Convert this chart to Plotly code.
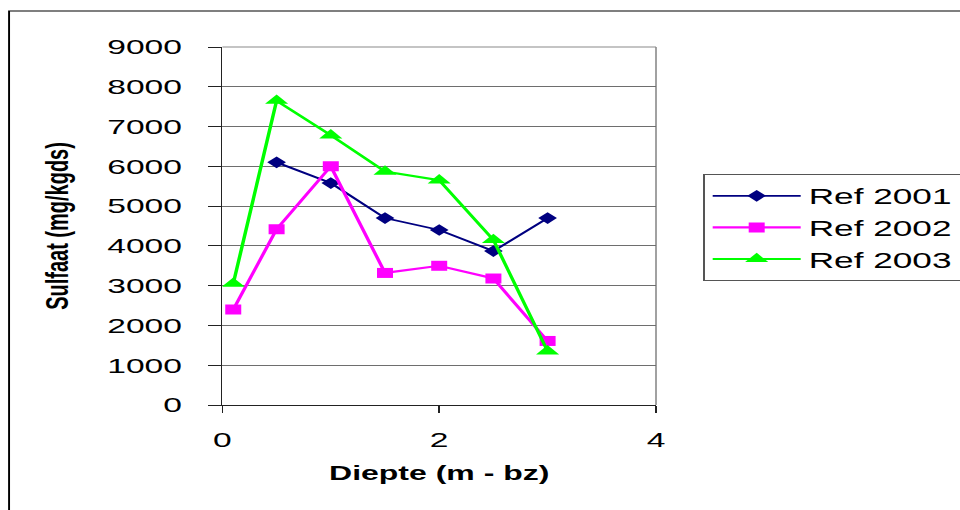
import plotly.graph_objects as go

# Sulfate content per depth for the three reference years
depth_2001 = [0.5, 1.0, 1.5, 2.0, 2.5, 3.0]
ref_2001 = [6100, 5580, 4700, 4400, 3870, 4700]

depth_2002 = [0.1, 0.5, 1.0, 1.5, 2.0, 2.5, 3.0]
ref_2002 = [2400, 4420, 6000, 3320, 3500, 3180, 1610]

depth_2003 = [0.1, 0.5, 1.0, 1.5, 2.0, 2.5, 3.0]
ref_2003 = [3050, 7650, 6780, 5870, 5650, 4150, 1350]

x_ticks = [0, 2, 4]
y_ticks = [0, 1000, 2000, 3000, 4000, 5000, 6000, 7000, 8000, 9000]

# the page is drawn narrow and widened horizontally afterwards
X_STRETCH = 1.6
FIG_W = 600
FIG_H = 510
FONT = "Liberation Sans, Arial, sans-serif"

series = [
    ("Ref 2001", depth_2001, ref_2001, "#000080", "diamond", 9, 1.8),
    ("Ref 2002", depth_2002, ref_2002, "#FF00FF", "square", 10, 2.2),
    ("Ref 2003", depth_2003, ref_2003, "#00FF00", "triangle-up", 12.5, 2.2),
]

fig = go.Figure()
for name, xs, ys, color, symbol, size, width in series:
    fig.add_trace(
        go.Scatter(
            x=xs,
            y=ys,
            name=name,
            legendgroup=name,
            mode="lines+markers",
            line=dict(color=color, width=width),
            marker=dict(color=color, symbol=symbol, size=size),
        )
    )

fig.update_layout(
    width=FIG_W,
    height=FIG_H,
    margin=dict(l=139.4, r=190, t=47, b=105, autoexpand=False),
    paper_bgcolor="white",
    plot_bgcolor="white",
    font=dict(family=FONT, color="black"),
    showlegend=True,
    legend=dict(
        x=1.1086,
        y=0.6453,
        xanchor="left",
        yanchor="top",
        bordercolor="#555555",
        borderwidth=1,
        bgcolor="white",
        font=dict(size=22, family=FONT, color="black"),
        itemwidth=55,
        tracegroupgap=4,
        traceorder="normal",
    ),
    xaxis=dict(
        range=[0, 4],
        tickvals=x_ticks,
        ticktext=[str(v) for v in x_ticks],
        showgrid=False,
        zeroline=False,
        showline=True,
        linecolor="#222222",
        linewidth=1,
        ticks="outside",
        ticklen=7,
        tickcolor="#222222",
        ticklabelstandoff=9,
        tickfont=dict(size=21, family=FONT, color="black"),
        title=dict(
            text="Diepte (m - bz)",
            font=dict(size=20, family=FONT, color="black", weight="bold"),
            standoff=15,
        ),
    ),
    yaxis=dict(
        range=[0, 9000],
        tickvals=y_ticks,
        ticktext=[str(v) for v in y_ticks],
        showgrid=True,
        gridcolor="#6e6e6e",
        gridwidth=1,
        zeroline=False,
        showline=True,
        linecolor="#222222",
        linewidth=1.2,
        ticks="outside",
        ticklen=8,
        tickcolor="#222222",
        ticklabelstandoff=12,
        tickfont=dict(size=21, family=FONT, color="black"),
        title=dict(
            text="Sulfaat (mg/kgds)",
            font=dict(size=20, family=FONT, color="black", weight="bold"),
            standoff=18,
        ),
    ),
    shapes=[
        # plot area border on the top and right
        dict(type="line", xref="paper", yref="paper", x0=0, x1=1, y0=1, y1=1,
             line=dict(color="#8a8a8a", width=1), layer="below"),
        dict(type="line", xref="paper", yref="paper", x0=1, x1=1, y0=0, y1=1,
             line=dict(color="#8a8a8a", width=1), layer="below"),
        # outer chart frame
        dict(type="rect", xref="paper", yref="paper", x0=-0.492, x1=2.0,
             y0=-0.5, y1=1.1006, line=dict(color="black", width=1.2),
             fillcolor="rgba(0,0,0,0)", layer="below"),
    ],
)

stretch_js = (
    "document.body.style.margin = '0';"
    "document.body.style.overflow = 'hidden';"
    "var gd = document.getElementById('{plot_id}');"
    "gd.style.transformOrigin = '0 0';"
    "gd.style.transform = 'scaleX(" + str(X_STRETCH) + ")';"
)

fig.write_html("out.html", post_script=stretch_js)
